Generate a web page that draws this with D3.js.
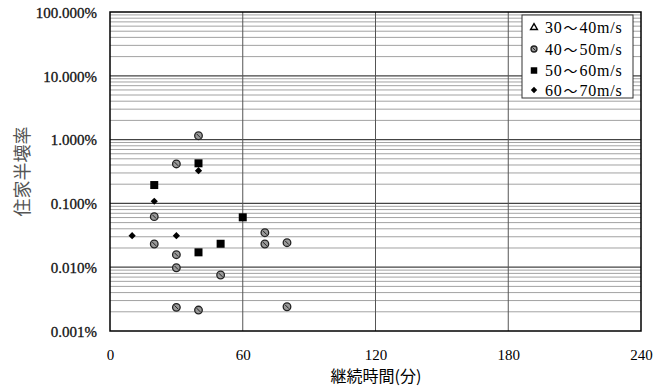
<!DOCTYPE html>
<html><head><meta charset="utf-8">
<script src="https://cdn.jsdelivr.net/npm/d3@7"></script>
<style>body{margin:0;background:#fff}svg{display:block}
.serif{font-family:"Liberation Serif","DejaVu Serif",serif}
.cjk{font-family:"Noto Sans CJK JP",sans-serif}</style>
</head><body><svg id="c" width="667" height="388"></svg>
<script>
const xTicks = [0, 60, 120, 180, 240];
const yTickLabels = ["0.001%", "0.010%", "0.100%", "1.000%", "10.000%", "100.000%"];
const yTickValues = [0.001, 0.01, 0.1, 1, 10, 100];
const seriesNames = ["30～40m/s", "40～50m/s", "50～60m/s", "60～70m/s"];
// values: [minutes, percent]
const s30_40 = [];
const s40_50 = [[40,1.15],[30,0.415],[20,0.062],[20,0.0231],[30,0.0157],[30,0.0098],[50,0.00755],[30,0.00235],[40,0.00213],[70,0.0347],[70,0.0231],[80,0.0242],[80,0.0024]];
const s50_60 = [[40,0.425],[20,0.194],[60,0.0605],[50,0.0233],[40,0.0171]];
const s60_70 = [[40,0.326],[20,0.108],[10,0.0312],[30,0.0312]];
const xTitle = "継続時間(分)";
const yTitle = "住家半壊率";

const svg = d3.select("#c");
const L = 110, R = 641, T = 12, B = 331;
const x = d3.scaleLinear().domain([0, 240]).range([L, R]);
const y = d3.scaleLog().domain([0.001, 100]).range([B, T]);

// minor horizontal gridlines
const minor = [];
for (let e = -3; e < 2; e++) for (let m = 2; m <= 9; m++) minor.push(m * Math.pow(10, e));
svg.append("g").selectAll("line").data(minor).join("line")
  .attr("x1", L).attr("x2", R).attr("y1", d => y(d)).attr("y2", d => y(d))
  .attr("stroke", "#8a8a8a").attr("stroke-width", 0.8);
svg.append("g").selectAll("line").data(yTickValues.slice(1, -1)).join("line")
  .attr("x1", L).attr("x2", R).attr("y1", d => y(d)).attr("y2", d => y(d))
  .attr("stroke", "#444").attr("stroke-width", 1.2);
// vertical gridlines
svg.append("g").selectAll("line").data(xTicks.slice(1, -1)).join("line")
  .attr("x1", d => x(d)).attr("x2", d => x(d)).attr("y1", T).attr("y2", B)
  .attr("stroke", "#555").attr("stroke-width", 1);
// frame
svg.append("rect").attr("x", L).attr("y", T).attr("width", R - L).attr("height", B - T)
  .attr("fill", "none").attr("stroke", "#000").attr("stroke-width", 1.5);

// axes labels
const yAxis = d3.axisLeft(y).tickValues(yTickValues).tickSize(0).tickPadding(0)
  .tickFormat((d, i) => yTickLabels[i]);
const ga = svg.append("g").attr("transform", `translate(${L - 13},0)`).call(yAxis)
  .attr("font-family", null).attr("font-size", null);
ga.select(".domain").remove();
ga.selectAll("text").attr("class", "serif").style("font-size", "15px")
  .attr("fill", "#111").attr("stroke", "#111").attr("stroke-width", 0.3).attr("dy", "0.35em");

const xAxis = d3.axisBottom(x).tickValues(xTicks).tickSize(0).tickPadding(0);
const gx = svg.append("g").attr("transform", `translate(0,${B + 18})`).call(xAxis)
  .attr("font-family", null).attr("font-size", null);
gx.select(".domain").remove();
gx.selectAll("text").attr("class", "serif").style("font-size", "15px").attr("fill", "#000").attr("dy", "0.71em");

svg.append("text").attr("class", "cjk").attr("x", 376).attr("y", 382).attr("text-anchor", "middle")
  .style("font-size", "16px").text(xTitle);
svg.append("text").attr("class", "cjk").attr("transform", `translate(29,${(T + B) / 2}) rotate(-90)`).attr("text-anchor", "middle")
  .style("font-size", "18px").attr("fill", "#555").text(yTitle);

// markers
const gp = svg.append("g");
function drawCircle(g, cx, cy, r) {
  g.append("circle").attr("cx", cx).attr("cy", cy).attr("r", r).attr("fill", "#999").attr("stroke", "#222").attr("stroke-width", 1.3);
  g.append("line").attr("x1", cx - r * 0.5).attr("y1", cy - r * 0.5).attr("x2", cx + r * 0.5).attr("y2", cy + r * 0.5).attr("stroke", "#222").attr("stroke-width", 1);
}
gp.selectAll("path.tri").data(s30_40).join("path").attr("class", "tri")
  .attr("d", d3.symbol().type(d3.symbolTriangle).size(28))
  .attr("transform", d => `translate(${x(d[0])},${y(d[1])})`).attr("fill", "#fff").attr("stroke", "#000");
s40_50.forEach(d => drawCircle(gp, x(d[0]), y(d[1]), 3.8));
gp.selectAll("path.sq").data(s50_60).join("path").attr("class", "sq")
  .attr("d", d3.symbol().type(d3.symbolSquare).size(64))
  .attr("transform", d => `translate(${x(d[0])},${y(d[1])})`).attr("fill", "#000");
gp.selectAll("path.dia").data(s60_70).join("path").attr("class", "dia")
  .attr("d", d3.symbol().type(d3.symbolSquare).size(26))
  .attr("transform", d => `translate(${x(d[0])},${y(d[1])}) rotate(45)`).attr("fill", "#000");

// legend
const lg = svg.append("g");
lg.append("rect").attr("x", 522).attr("y", 15).attr("width", 111).attr("height", 83)
  .attr("fill", "#fff").attr("stroke", "#333").attr("stroke-width", 1);
const rows = [27.5, 49, 70.5, 90];
seriesNames.forEach((n, i) => {
  const cy = rows[i], cx = 534;
  if (i === 0) lg.append("path").attr("d", d3.symbol().type(d3.symbolTriangle).size(20)).attr("transform", `translate(${cx},${cy})`).attr("fill", "#fff").attr("stroke", "#000").attr("stroke-width", 1.4);
  if (i === 1) drawCircle(lg, cx, cy, 3);
  if (i === 2) lg.append("path").attr("d", d3.symbol().type(d3.symbolSquare).size(42)).attr("transform", `translate(${cx},${cy})`).attr("fill", "#000");
  if (i === 3) lg.append("path").attr("d", d3.symbol().type(d3.symbolSquare).size(20)).attr("transform", `translate(${cx},${cy}) rotate(45)`).attr("fill", "#000");
  const parts = n.split("～");
  const t = lg.append("text").attr("class", "serif").attr("x", 545).attr("y", cy).attr("dy", "0.35em")
    .style("font-size", "16px").style("letter-spacing", "0.8px").attr("fill", "#000");
  t.append("tspan").text(parts[0]);
  t.append("tspan").attr("class", "cjk").style("font-size", "14px").attr("dx", 1).text("～");
  t.append("tspan").attr("class", "serif").attr("dx", 1).text(parts[1]);
});
</script></body></html>
